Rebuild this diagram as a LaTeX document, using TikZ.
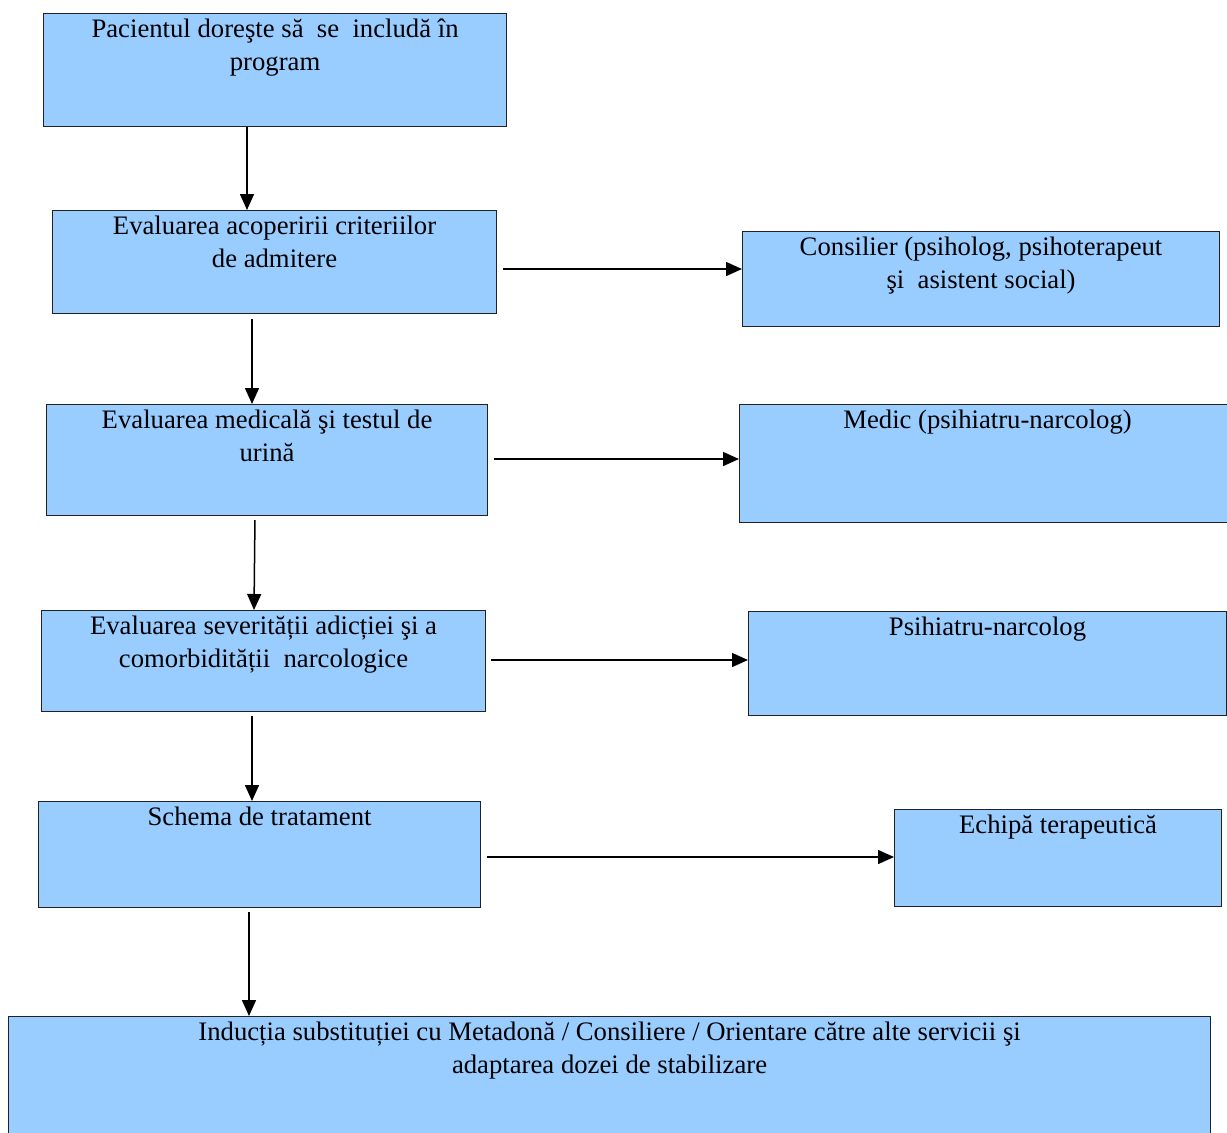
\documentclass[tikz,border=0pt]{standalone}
\usepackage{fontspec}
\setmainfont{Liberation Serif}
\usetikzlibrary{arrows.meta}
\definecolor{boxblue}{HTML}{99CCFF}
\definecolor{boxline}{HTML}{222222}
\begin{document}
\begin{tikzpicture}[x=1pt,y=-1pt,
  box/.style={draw=boxline, line width=1.1pt, fill=boxblue, anchor=north west,
    inner sep=0pt, rectangle},
  boxtext/.style={font=\fontsize{26.7}{32.5}\selectfont, align=center,
    anchor=north, inner sep=0pt},
  flow/.style={line width=1.5pt, -{Triangle[length=16pt,width=14pt]}}]
\path[use as bounding box, clip] (0,0) rectangle (1227,1133);

% left column: main steps
\node[box, minimum width=463pt, minimum height=113pt] (b1) at (43,13) {};
\node[box, minimum width=444pt, minimum height=103pt] (b2) at (52,210) {};
\node[box, minimum width=441pt, minimum height=111pt] (b3) at (46,404) {};
\node[box, minimum width=444pt, minimum height=101pt] (b4) at (41,610) {};
\node[box, minimum width=442pt, minimum height=106pt] (b5) at (38,801) {};
\node[box, minimum width=1202pt, minimum height=140pt] (b6) at (8,1016) {};

% right column: who carries out each step
\node[box, minimum width=477pt, minimum height=95pt] (c2) at (742,231) {};
\node[box, minimum width=496pt, minimum height=118pt] (c3) at (739,404) {};
\node[box, minimum width=478pt, minimum height=104pt] (c4) at (748,611) {};
\node[box, minimum width=327pt, minimum height=97pt] (c5) at (894,809) {};

% texts
\node[boxtext] (t1) at ([yshift=-6pt]b1.north) {Pacientul doreşte să~ se~ includă în\\program};
\node[boxtext] (t2) at ([yshift=-6pt]b2.north) {Evaluarea acoperirii criteriilor\\de admitere};
\node[boxtext] (t3) at ([yshift=-6pt]b3.north) {Evaluarea medicală şi testul de\\urină};
\node[boxtext] (t4) at ([yshift=-6pt]b4.north) {Evaluarea severității adicției şi a\\comorbidității~ narcologice};
\node[boxtext] (t5) at ([yshift=-6pt]b5.north) {Schema de tratament};
\node[boxtext] (t6) at ([yshift=-6pt]b6.north) {Inducția substituției cu Metadonă / Consiliere / Orientare către alte servicii şi\\adaptarea dozei de stabilizare};
\node[boxtext] (u2) at ([yshift=-6pt]c2.north) {Consilier (psiholog, psihoterapeut\\şi~ asistent social)};
\node[boxtext] (u3) at ([yshift=-6pt]c3.north) {Medic (psihiatru-narcolog)};
\node[boxtext] (u4) at ([yshift=-6pt]c4.north) {Psihiatru-narcolog};
\node[boxtext] (u5) at ([yshift=-6pt]c5.north) {Echipă terapeutică};

% vertical flow
\draw[flow] (b1.south -| 247,0) -- (b2.north -| 247,0);
\draw[flow, shorten <=5pt] (b2.south -| 252,0) -- (b3.north -| 252,0);
\draw[flow, shorten <=4pt] (b3.south -| 255,0) -- (b4.north -| 254,0);
\draw[flow, shorten <=4pt] (b4.south -| 252,0) -- (b5.north -| 252,0);
\draw[flow, shorten <=4pt] (b5.south -| 249,0) -- (b6.north -| 249,0);

% horizontal links
\draw[flow, shorten <=6pt] (b2.east |- 0,269) -- (c2.west |- 0,269);
\draw[flow, shorten <=6pt] (b3.east |- 0,459) -- (c3.west |- 0,459);
\draw[flow, shorten <=5pt] (b4.east |- 0,660) -- (c4.west |- 0,660);
\draw[flow, shorten <=6pt] (b5.east |- 0,857) -- (c5.west |- 0,857);
\end{tikzpicture}
\end{document}
